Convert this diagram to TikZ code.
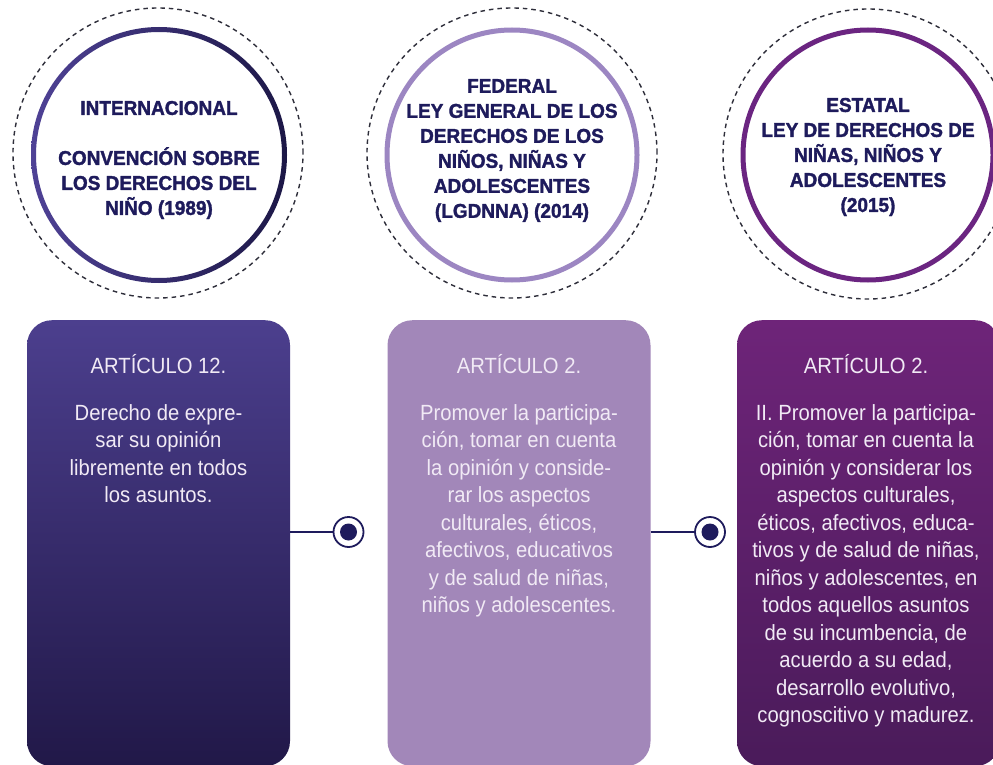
\documentclass[tikz,border=0pt]{standalone}
\usepackage{fontspec}
\setmainfont{Liberation Sans}
\newfontfamily\bodyfont[FakeStretch=0.92]{Liberation Sans}
\newfontfamily\titlefont[FakeStretch=0.95,FakeBold=1.6]{Liberation Sans Bold}
\definecolor{navy}{HTML}{1E1B5C}
\definecolor{boxAtop}{HTML}{4C3F8E}
\definecolor{boxAbot}{HTML}{211848}
\definecolor{boxB}{HTML}{A287B9}
\definecolor{boxCtop}{HTML}{6E2479}
\definecolor{boxCbot}{HTML}{4A1B5A}
\definecolor{ringAl}{HTML}{4F4296}
\definecolor{ringAr}{HTML}{1C1746}
\definecolor{ringB}{HTML}{9C86C2}
\definecolor{ringC}{HTML}{6B2581}
\definecolor{boxtext}{HTML}{F1EAF5}
\definecolor{dashcol}{HTML}{2E2E3A}
\begin{document}
\begin{tikzpicture}[x=1pt,y=-1pt,
  panel/.style={rounded corners=25pt, minimum width=263pt, minimum height=446pt, anchor=north, inner sep=0pt},
  headtext/.style={font=\bodyfont\fontsize{22}{27}\selectfont, text=boxtext, anchor=base, inner sep=0pt},
  bodytext/.style={font=\bodyfont\fontsize{22}{27.5}\selectfont, text=boxtext, align=center, anchor=north, inner sep=0pt},
  titletext/.style={font=\titlefont\fontsize{20}{25}\selectfont, text=navy, align=center, inner sep=0pt},
  outerring/.style={circle, draw=dashcol, dash pattern=on 4.5pt off 4pt, line width=1.4pt, minimum size=290pt, inner sep=0pt},
  innerring/.style={circle, line width=5pt, minimum size=250pt, inner sep=0pt, fill=white},
  dotring/.style={circle, draw=navy, line width=1.8pt, fill=white, minimum size=30pt, inner sep=0pt},
  link/.style={draw=navy, line width=1.5pt}
]
\useasboundingbox (0,0) rectangle (993,765);
\fill[white] (0,0) rectangle (993,765);
\begin{scope}
\clip (0,0) rectangle (993,765);
% dashed outer circles
\node[outerring] (o1) at (158,153) {};
\node[outerring] (o2) at (512,153) {};
\node[outerring] (o3) at (868,154) {};
% inner rings
\node[innerring, draw=none] (c1) at (159,155) {};
\shade[left color=ringAl, right color=ringAr, even odd rule]
  (c1.center) circle[radius=128pt] (c1.center) circle[radius=123pt];
\node[innerring, draw=ringB] (c2) at (512,155) {};
\node[innerring, draw=ringC] (c3) at (868,155) {};
% panels
\node[panel, top color=boxAtop, bottom color=boxAbot] (p1) at (158.5,320) {};
\node[panel, fill=boxB] (p2) at (519,320) {};
\node[panel, top color=boxCtop, bottom color=boxCbot] (p3) at (868.5,320) {};
\end{scope}
% circle titles
\node[titletext] (t1) at (159,160) {INTERNACIONAL\\[25pt]CONVENCIÓN SOBRE\\LOS DERECHOS DEL\\NIÑO (1989)};
\node[titletext] (t2) at (512,150.5) {FEDERAL\\LEY GENERAL DE LOS\\DERECHOS DE LOS\\NIÑOS, NIÑAS Y\\ADOLESCENTES\\(LGDNNA) (2014)};
\node[titletext] (t3) at (868,157) {ESTATAL\\LEY DE DERECHOS DE\\NIÑAS, NIÑOS Y\\ADOLESCENTES\\(2015)};
% panel texts
\node[headtext] (h1) at (158.5,373) {ARTÍCULO 12.};
\node[headtext] (h2) at (519,373) {ARTÍCULO 2.};
\node[headtext] (h3) at (866,373) {ARTÍCULO 2.};
\node[bodytext] (b1) at (158.5,404) {Derecho de expre-\\sar su opinión\\libremente en todos\\los asuntos.};
\node[bodytext] (b2) at (519,404) {Promover la participa-\\ción, tomar en cuenta\\la opinión y conside-\\rar los aspectos\\culturales, éticos,\\afectivos, educativos\\y de salud de niñas,\\niños y adolescentes.};
\node[bodytext] (b3) at (866,404) {II. Promover la participa-\\ción, tomar en cuenta la\\opinión y considerar los\\aspectos culturales,\\éticos, afectivos, educa-\\tivos y de salud de niñas,\\niños y adolescentes, en\\todos aquellos asuntos\\de su incumbencia, de\\acuerdo a su edad,\\desarrollo evolutivo,\\cognoscitivo y madurez.};
% connectors
\node[dotring] (d1) at (348.5,532) {};
\node[dotring] (d2) at (710,532) {};
\fill[navy] (d1.center) circle[radius=8.5pt];
\fill[navy] (d2.center) circle[radius=8.5pt];
\draw[link] (p1.east |- d1) -- (d1);
\draw[link] (p2.east |- d2) -- (d2);
\end{tikzpicture}
\end{document}
